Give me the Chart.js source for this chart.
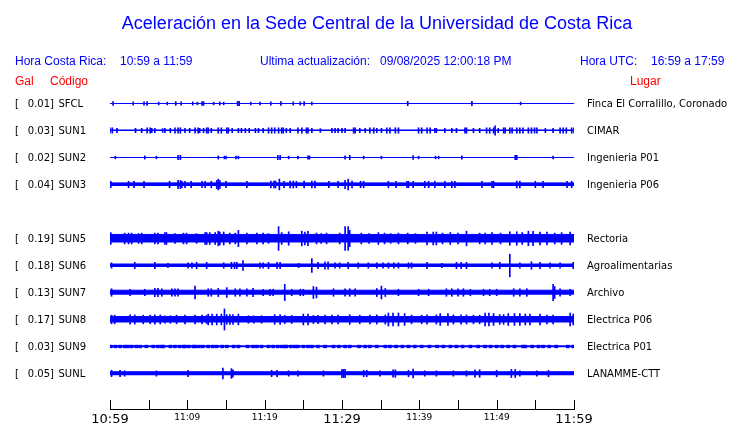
<!DOCTYPE html>
<html>
<head>
<meta charset="utf-8">
<script src="https://cdn.jsdelivr.net/npm/chart.js@4.4.0/dist/chart.umd.min.js"></script>
<style>
  html, body { margin: 0; padding: 0; background: #fff; }
</style>
</head>
<body>
<canvas id="myChart" width="740" height="423"></canvas>
<script>
const codes = ['SFCL', 'SUN1', 'SUN2', 'SUN3', 'SUN5', 'SUN6', 'SUN7', 'SUN8', 'SUN9', 'SUNL'];
const places = ['Finca El Corralillo, Coronado', 'CIMAR', 'Ingenieria P01', 'Ingenieria P06', 'Rectoria',
  'Agroalimentarias', 'Archivo', 'Electrica P06', 'Electrica P01', 'LANAMME-CTT'];
const gal = ['0.01', '0.03', '0.02', '0.04', '0.19', '0.18', '0.13', '0.17', '0.03', '0.05'];
const slots = [0, 1, 2, 3, 5, 6, 7, 8, 9, 10]; // fila de cada traza (la 4 queda vacia)
const tickLabels = ['10:59', '11:09', '11:19', '11:29', '11:39', '11:49', '11:59'];

// ruido de fondo (media amplitud, en fracciones de la separacion entre trazas)
const baseAmp = [0, 0.02, 0, 0.06, 0.15, 0.055, 0.085, 0.11, 0.025, 0.065];

// picos: [minuto desde 10:59, media amplitud]
const spikesSFCL = [[0.4,.07],[3.0,.06],[4.4,.06],[4.8,.07],[6.3,.05],[7.4,.05],[8.5,.07],[9.2,.06],[10.7,.06],[11.3,.05],[11.9,.07],[12.1,.07],[13.4,.05],[14.2,.06],[14.7,.05],[16.5,.08],[16.7,.08],[18.2,.05],[19.4,.05],[20.8,.06],[22.1,.07],[23.7,.06],[24.6,.06],[25.1,.07],[26.1,.05],[38.5,.08],[46.8,.08],[53.1,.05]];
const spikesSUN1 = [[0.0,.1],[0.3,.1],[0.9,.08],[3.3,.08],[4.1,.08],[4.8,.1],[5.2,.1],[5.4,.08],[5.8,.08],[6.8,.07],[7.1,.08],[7.8,.08],[8.4,.1],[8.8,.1],[9.1,.1],[9.7,.08],[10.3,.08],[11.0,.1],[11.4,.1],[11.6,.08],[12.1,.08],[12.5,.1],[12.7,.1],[13.1,.08],[14.0,.1],[14.4,.1],[15.1,.1],[15.3,.1],[15.8,.08],[16.6,.08],[17.0,.08],[17.5,.08],[18.0,.08],[18.8,.08],[19.2,.08],[19.8,.08],[20.5,.1],[20.9,.1],[21.3,.1],[21.8,.1],[22.2,.1],[22.4,.1],[22.8,.08],[23.3,.08],[24.3,.1],[24.8,.1],[25.4,.1],[25.6,.1],[26.1,.08],[27.2,.07],[28.7,.08],[29.1,.08],[29.5,.08],[30.0,.08],[30.4,.08],[31.5,.1],[31.7,.1],[32.3,.08],[33.0,.08],[33.6,.1],[34.1,.1],[34.5,.08],[35.1,.08],[35.8,.1],[36.2,.1],[36.9,.1],[37.3,.1],[39.9,.1],[40.3,.1],[41.0,.1],[41.4,.1],[42.0,.08],[42.2,.08],[43.3,.08],[44.2,.08],[44.8,.08],[45.9,.1],[46.1,.1],[47.0,.08],[47.8,.08],[48.7,.1],[49.1,.1],[49.6,.1],[49.8,.17],[50.2,.08],[50.9,.1],[51.1,.1],[51.7,.1],[52.0,.1],[52.6,.1],[53.0,.1],[53.4,.1],[54.1,.1],[54.5,.1],[54.9,.1],[55.2,.1],[56.3,.08],[57.3,.08],[58.2,.1],[58.6,.1],[59.0,.1],[59.7,.1],[60.0,.1]];
const spikesSUN2 = [[0.7,.05],[4.5,.06],[6.0,.05],[8.8,.08],[9.1,.08],[14.0,.06],[14.8,.05],[15.0,.05],[16.3,.05],[16.6,.05],[21.7,.08],[22.0,.08],[23.1,.05],[24.3,.05],[25.6,.06],[25.8,.06],[30.4,.06],[31.0,.08],[32.8,.05],[35.1,.05],[39.2,.07],[39.9,.05],[42.1,.05],[42.5,.05],[45.5,.06],[52.4,.08],[52.6,.08],[57.3,.05]];
const spikesSUN3 = [[0.1,.12],[2.4,.12],[3.1,.12],[4.4,.12],[7.7,.12],[8.8,.15],[9.1,.15],[9.3,.12],[9.7,.12],[10.5,.12],[11.9,.12],[12.3,.12],[13.1,.12],[13.8,.15],[14.0,.2],[14.2,.15],[15.0,.12],[17.7,.12],[20.8,.13],[21.2,.13],[21.4,.13],[21.9,.2],[22.5,.12],[23.3,.13],[23.7,.13],[24.1,.12],[25.1,.13],[26.1,.13],[26.5,.13],[28.3,.12],[29.5,.12],[30.4,.15],[30.8,.2],[31.3,.13],[32.4,.12],[32.8,.12],[36.0,.12],[37.0,.12],[38.4,.12],[38.6,.12],[39.2,.12],[40.7,.12],[41.2,.12],[42.0,.12],[43.3,.12],[44.2,.12],[44.6,.12],[48.1,.12],[49.4,.12],[49.6,.12],[52.6,.13],[53.0,.13],[55.0,.12],[56.0,.12],[59.1,.12],[59.7,.12]];
const spikesSUN5 = [[0.1,.22],[1.9,.2],[2.4,.2],[2.8,.2],[3.7,.18],[4.1,.2],[5.8,.2],[6.2,.2],[7.1,.22],[7.3,.22],[8.4,.18],[9.5,.2],[9.9,.2],[11.2,.18],[12.3,.22],[12.5,.22],[12.9,.22],[13.6,.22],[14.0,.27],[14.2,.24],[14.7,.24],[15.5,.2],[16.2,.2],[16.6,.3],[17.7,.2],[19.0,.2],[19.8,.2],[20.5,.18],[21.8,.44],[22.2,.22],[23.1,.25],[24.8,.27],[25.2,.24],[25.6,.27],[26.7,.2],[27.3,.18],[28.0,.2],[29.7,.2],[30.4,.44],[30.8,.44],[31.0,.3],[32.5,.2],[33.5,.18],[34.7,.22],[35.5,.2],[36.3,.18],[37.3,.2],[38.5,.2],[39.5,.18],[41.0,.24],[41.8,.24],[42.2,.24],[43.0,.2],[44.0,.22],[45.0,.2],[46.1,.27],[47.8,.2],[48.5,.2],[49.4,.22],[50.5,.2],[51.7,.25],[52.6,.25],[53.3,.22],[54.1,.27],[54.7,.27],[55.6,.24],[56.5,.24],[57.5,.2],[58.4,.22],[59.5,.24]];
const spikesSUN6 = [[0.2,.1],[3.2,.12],[5.8,.12],[7.5,.08],[10.1,.1],[10.6,.1],[11.2,.12],[12.5,.12],[14.7,.1],[15.7,.12],[16.1,.12],[16.4,.12],[17.2,.18],[19.4,.1],[19.8,.1],[20.5,.12],[21.6,.12],[22.0,.12],[24.4,.08],[26.1,.26],[26.9,.12],[27.8,.14],[28.2,.14],[29.1,.1],[29.7,.1],[30.8,.12],[32.1,.1],[33.4,.1],[34.5,.1],[35.3,.1],[36.0,.1],[36.7,.1],[37.3,.1],[38.6,.1],[39.0,.1],[41.0,.12],[42.9,.08],[44.8,.12],[45.4,.12],[46.1,.12],[49.4,.1],[50.4,.12],[51.7,.42],[53.0,.1],[54.5,.14],[55.6,.12],[56.9,.1],[58.2,.1],[59.9,.12]];
const spikesSUN7 = [[0.2,.14],[2.6,.12],[4.5,.12],[5.8,.15],[6.2,.15],[6.7,.14],[8.0,.14],[8.4,.14],[8.8,.14],[11.0,.24],[12.7,.14],[13.1,.14],[14.0,.15],[15.1,.18],[16.2,.14],[16.8,.14],[17.7,.14],[18.5,.15],[19.8,.12],[20.7,.12],[21.1,.12],[22.6,.3],[23.5,.12],[24.6,.12],[25.0,.12],[26.3,.22],[26.7,.2],[28.9,.14],[30.4,.14],[31.0,.14],[31.7,.14],[34.5,.15],[35.1,.24],[35.6,.15],[37.3,.12],[39.9,.12],[41.2,.12],[43.5,.14],[44.2,.14],[45.0,.14],[45.7,.14],[46.6,.12],[48.3,.12],[49.1,.12],[50.0,.12],[52.2,.14],[53.0,.14],[53.9,.14],[57.3,.3],[57.5,.22],[58.2,.14],[59.5,.12]];
const spikesSUN8 = [[0.2,.16],[0.6,.16],[2.6,.17],[3.2,.17],[4.3,.16],[5.2,.16],[5.8,.17],[6.5,.17],[7.1,.14],[7.8,.14],[8.6,.16],[9.7,.16],[11.0,.16],[11.9,.16],[12.5,.15],[12.7,.2],[13.2,.2],[13.8,.2],[14.4,.2],[14.8,.39],[15.1,.18],[15.5,.18],[15.9,.18],[16.6,.2],[17.9,.14],[18.6,.14],[19.6,.14],[21.3,.18],[22.0,.18],[22.6,.15],[23.5,.15],[25.0,.2],[25.6,.2],[26.3,.15],[26.9,.15],[27.8,.16],[28.7,.16],[29.5,.16],[31.0,.18],[32.3,.16],[33.6,.16],[34.5,.17],[35.6,.17],[36.0,.24],[36.6,.24],[37.3,.24],[38.1,.22],[39.0,.16],[40.3,.16],[41.0,.17],[42.2,.17],[42.7,.22],[43.7,.22],[44.4,.17],[45.4,.17],[46.1,.17],[47.0,.16],[47.8,.16],[48.5,.24],[49.0,.24],[49.6,.22],[50.4,.18],[50.9,.18],[51.5,.22],[52.3,.22],[53.0,.22],[53.7,.2],[54.3,.2],[55.6,.2],[56.5,.16],[57.3,.16],[59.5,.24],[59.9,.2]];
const spikesSUN9 = [[0.1,.05],[0.7,.05],[1.3,.05],[1.9,.05],[2.3,.05],[2.8,.05],[3.4,.05],[3.9,.05],[4.7,.05],[5.6,.05],[6.2,.05],[6.7,.05],[6.9,.05],[7.8,.05],[8.4,.05],[9.0,.05],[9.5,.05],[9.7,.05],[10.2,.05],[10.8,.05],[11.0,.05],[11.5,.05],[12.0,.05],[12.7,.05],[13.3,.05],[13.8,.05],[14.5,.05],[15.1,.05],[16.0,.05],[16.6,.05],[17.8,.05],[18.5,.05],[19.0,.05],[19.6,.05],[20.5,.05],[21.1,.05],[21.7,.05],[22.2,.05],[22.6,.05],[22.8,.05],[23.4,.05],[23.9,.05],[24.3,.05],[25.0,.05],[25.6,.05],[26.1,.05],[26.9,.05],[27.8,.05],[28.9,.05],[29.6,.05],[30.4,.05],[31.0,.05],[32.2,.05],[33.0,.05],[33.6,.05],[34.5,.05],[35.6,.05],[36.2,.05],[37.0,.05],[37.8,.05],[38.6,.05],[39.4,.05],[40.3,.05],[41.3,.05],[42.3,.05],[43.1,.05],[44.0,.05],[44.8,.05],[45.6,.05],[46.6,.05],[47.6,.05],[48.5,.05],[49.2,.05],[50.0,.05],[50.7,.05],[51.5,.05],[52.3,.05],[53.4,.05],[53.7,.05],[54.6,.05],[55.4,.05],[56.0,.05],[56.8,.05],[57.7,.05],[59.2,.05],[59.9,.05]];
const spikesSUNL = [[0.2,.12],[1.3,.12],[1.9,.1],[6.0,.1],[10.1,.12],[14.6,.2],[15.7,.18],[15.9,.14],[20.9,.12],[21.6,.12],[23.1,.1],[24.3,.1],[27.6,.1],[30.0,.15],[30.2,.15],[30.4,.15],[32.8,.12],[33.2,.12],[34.9,.1],[36.6,.14],[36.9,.14],[38.6,.12],[39.2,.16],[40.7,.1],[42.2,.1],[44.4,.1],[46.1,.1],[47.2,.14],[47.8,.14],[50.0,.12],[51.9,.15],[52.4,.15],[53.0,.1],[55.2,.1],[56.7,.12]];

const spikeSets = [spikesSFCL, spikesSUN1, spikesSUN2, spikesSUN3, spikesSUN5,
  spikesSUN6, spikesSUN7, spikesSUN8, spikesSUN9, spikesSUNL];

const BLUE = '#0000ff';
const datasets = [];
codes.forEach((code, i) => {
  const c = slots[i];
  const a = baseAmp[i];
  // banda de ruido de fondo
  datasets.push({
    type: 'line',
    label: code,
    data: [{ x: 0, y: c - a }, { x: 60, y: c - a }],
    fill: { value: c + a },
    borderColor: BLUE,
    backgroundColor: BLUE,
    borderWidth: 1,
    pointRadius: 0
  });
  // picos
  datasets.push({
    type: 'bar',
    label: code + ' picos',
    data: spikeSets[i].map(([m, amp]) => ({ x: m, y: [c - amp, c + amp] })),
    backgroundColor: BLUE,
    barThickness: code === 'SUN9' ? 3 : 1,
    grouped: false
  });
});

const textos = {
  id: 'textos',
  afterDraw(chart) {
    const { ctx, chartArea } = chart;
    const x = chart.scales.x;
    const y = chart.scales.y;
    ctx.save();

    // marcas del eje hacia arriba
    ctx.strokeStyle = '#000';
    ctx.lineWidth = 1;
    x.ticks.forEach((t) => {
      const px = Math.round(x.getPixelForValue(t.value)) + 0.5;
      ctx.beginPath();
      ctx.moveTo(px, chartArea.bottom);
      ctx.lineTo(px, chartArea.bottom - 9);
      ctx.stroke();
    });

    // titulo y encabezado
    ctx.textBaseline = 'alphabetic';
    ctx.fillStyle = BLUE;
    ctx.font = '18px "Liberation Sans", Arial, sans-serif';
    ctx.textAlign = 'center';
    ctx.fillText('Aceleración en la Sede Central de la Universidad de Costa Rica', 377, 29);

    ctx.textAlign = 'left';
    ctx.font = '12px "Liberation Sans", Arial, sans-serif';
    ctx.fillText('Hora Costa Rica:', 15, 65);
    ctx.fillText('10:59 a 11:59', 120, 65);
    ctx.fillText('Ultima actualización:', 260, 65);
    ctx.fillText('09/08/2025 12:00:18 PM', 380, 65);
    ctx.fillText('Hora UTC:', 580, 65);
    ctx.fillText('16:59 a 17:59', 651, 65);

    ctx.fillStyle = '#ff0000';
    ctx.fillText('Gal', 15, 85);
    ctx.fillText('Código', 50, 85);
    ctx.fillText('Lugar', 630, 85);

    // etiquetas de cada traza
    ctx.fillStyle = '#000';
    ctx.font = '10px "DejaVu Sans", sans-serif';
    codes.forEach((code, i) => {
      const py = y.getPixelForValue(slots[i]) + 3.5;
      ctx.textAlign = 'left';
      ctx.fillText('[', 15, py);
      ctx.textAlign = 'right';
      ctx.fillText(gal[i] + ']', 54, py);
      ctx.textAlign = 'left';
      ctx.fillText(code, 58.5, py);
      ctx.fillText(places[i], 587, py);
    });
    ctx.restore();
  }
};

new Chart(document.getElementById('myChart'), {
  type: 'bar',
  data: { datasets: datasets },
  options: {
    responsive: false,
    animation: false,
    layout: { padding: { left: 110, right: 166, top: 89, bottom: 0 } },
    plugins: {
      legend: { display: false },
      tooltip: { enabled: false }
    },
    scales: {
      x: {
        type: 'linear',
        min: 0,
        max: 60,
        offset: false,
        grid: { display: true, drawOnChartArea: false, drawTicks: false, offset: false },
        border: { display: true, color: '#000', width: 1 },
        afterFit: (scale) => { scale.height = 14; },
        ticks: {
          stepSize: 5,
          autoSkip: false,
          maxRotation: 0,
          padding: 3,
          color: '#000',
          font: (c) => ({
            family: '"DejaVu Sans", sans-serif',
            size: (c.tick && c.tick.value % 30 === 0) ? 13 : 9
          }),
          callback: (v) => (v % 10 === 0 ? tickLabels[v / 10] : '')
        }
      },
      y: {
        type: 'linear',
        display: false,
        reverse: true,
        min: -0.537,
        max: 11.315
      }
    }
  },
  plugins: [textos]
});
</script>
</body>
</html>
